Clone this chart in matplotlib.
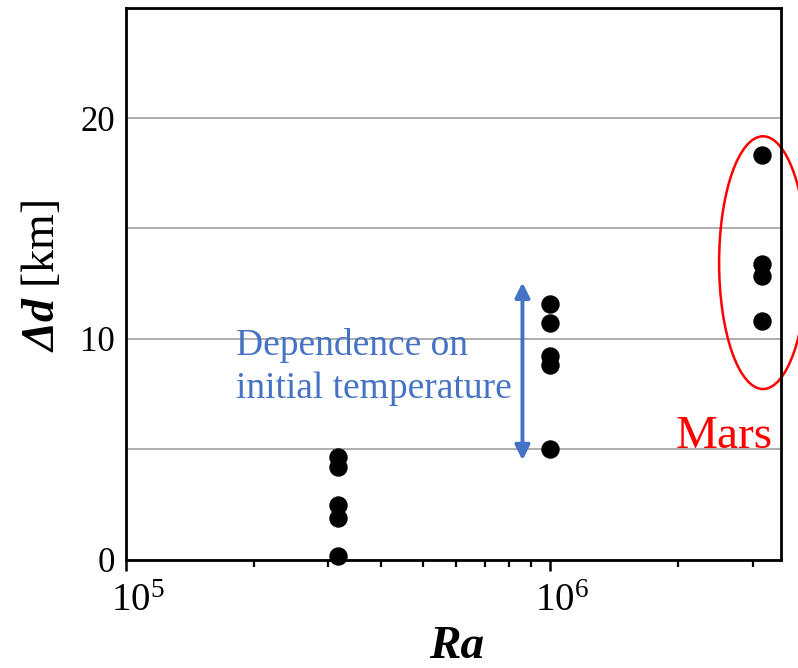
import numpy as np
import matplotlib
matplotlib.use('Agg')
import matplotlib.pyplot as plt
from matplotlib.patches import Ellipse
from matplotlib.transforms import ScaledTranslation
from matplotlib.ticker import LogLocator, NullFormatter, FixedLocator, FixedFormatter

plt.rcParams['font.family'] = ['Liberation Serif', 'DejaVu Serif']
plt.rcParams['mathtext.fontset'] = 'custom'
plt.rcParams['mathtext.rm'] = 'Liberation Serif'
plt.rcParams['mathtext.it'] = 'Liberation Serif:italic'
plt.rcParams['mathtext.bf'] = 'Liberation Serif:bold'
plt.rcParams['mathtext.bfit'] = 'Liberation Serif:italic:bold'

# data
ra_low = [3.16e5] * 5
dd_low = [4.63, 4.21, 2.45, 1.87, 0.15]
ra_mid = [1.0e6] * 5
dd_mid = [11.56, 10.71, 9.20, 8.82, 5.01]
ra_mars = [3.16e6] * 4
dd_mars = [18.33, 13.37, 12.83, 10.80]

xticks = [1e5, 1e6]
xticklabels = [r'$10^5$', r'$10^6$']
yticks = [0, 5, 10, 15, 20]
yticklabels = ['0', '', '10', '', '20']
note_lines = ['Dependence on', 'initial temperature']
mars_label = 'Mars'

blue = '#4472C4'

fig = plt.figure(figsize=(7.98, 6.68), dpi=100)
ax = fig.add_axes([0.158, 0.1623, 0.8207, 0.8262])

ax.scatter(ra_low + ra_mid + ra_mars, dd_low + dd_mid + dd_mars,
           s=150, color='black', zorder=3, clip_on=False)

ax.set_xscale('log')
ax.set_xlim(1e5, 3.5e6)
ax.set_ylim(0, 25)

ax.yaxis.set_major_locator(FixedLocator(yticks))
ax.yaxis.set_major_formatter(FixedFormatter(yticklabels))
ax.grid(axis='y', color='#a0a0a0', lw=1.2)
ax.set_axisbelow(True)
ax.tick_params(axis='y', length=0, labelsize=25, pad=8)

ax.xaxis.set_major_locator(FixedLocator(xticks))
ax.xaxis.set_major_formatter(FixedFormatter(xticklabels))
ax.xaxis.set_minor_locator(LogLocator(base=10, subs=np.arange(2, 10)))
ax.xaxis.set_minor_formatter(NullFormatter())
ax.tick_params(axis='x', which='major', direction='out', length=8, width=1.8,
               labelsize=28, pad=9)
ax.tick_params(axis='x', which='minor', direction='out', length=5, width=1.6)
# labels in the original sit a little right of their ticks
for t in ax.xaxis.get_major_ticks():
    t.label1.set_transform(t.label1.get_transform() +
                           ScaledTranslation(12 / 100, 0, fig.dpi_scale_trans))

for sp in ax.spines.values():
    sp.set_linewidth(2.0)

ax.set_xlabel('Ra', fontsize=34, fontweight='bold', style='italic')
ax.xaxis.set_label_coords(0.505, -0.12)
ax.set_ylabel(r'$\mathbfit{\Delta d}$ [km]', fontsize=33)
ax.yaxis.set_label_coords(-0.095, 0.515)

# dependence on initial temperature
ax.annotate('', xy=(8.6e5, 12.55), xytext=(8.6e5, 4.5),
            arrowprops=dict(arrowstyle='<|-|>', color=blue, lw=2.8,
                            mutation_scale=22, shrinkA=0, shrinkB=0))
ax.text(1.82e5, 9.27, note_lines[0], color=blue, fontsize=27, va='baseline')
ax.text(1.82e5, 7.33, note_lines[1], color=blue, fontsize=27, va='baseline')

# Mars
ax.add_patch(Ellipse((0.9725, 0.538), 0.134, 0.458, transform=ax.transAxes,
                     fill=False, edgecolor='red', lw=1.8, clip_on=False))
ax.text(1.98e6, 5.06, mars_label, color='red', fontsize=34, va='baseline')

plt.savefig('out.png', dpi=100)
